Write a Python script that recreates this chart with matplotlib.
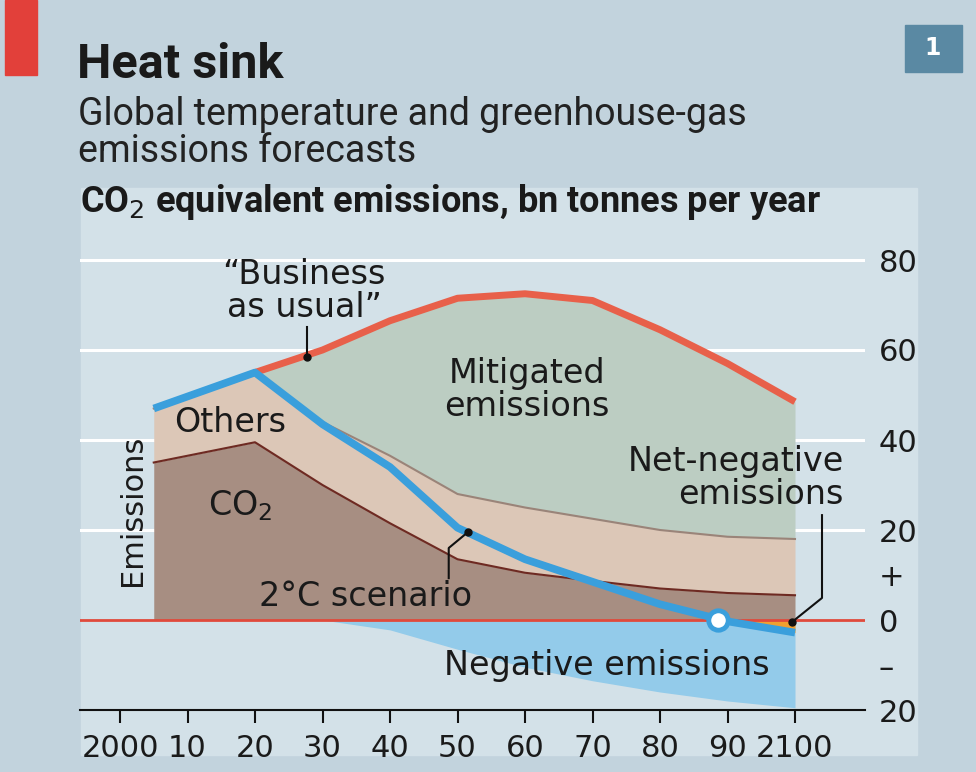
import matplotlib.pyplot as plt
from matplotlib.patches import Rectangle
import numpy as np

# Chart data (bn tonnes CO2 equivalent per year)
years = [2005, 2020, 2030, 2040, 2050, 2060, 2070, 2080, 2090, 2100]
co2 = [35, 39.5, 30, 21.5, 13.5, 10.5, 8.7, 7.0, 6.0, 5.5]
others_top = [47, 55, 44, 36.5, 28, 25, 22.5, 20, 18.5, 18]
two_deg = [47, 55, 43.5, 34, 20.5, 13.5, 8.5, 3.5, -0.3, -2.8]

bau_years = [2020, 2030, 2040, 2050, 2060, 2070, 2080, 2090, 2100]
bau = [55, 60, 66.5, 71.5, 72.5, 71, 64.5, 57, 48.5]

neg_years = [2030, 2040, 2050, 2060, 2070, 2080, 2090, 2100]
neg_bottom = [0, -2.2, -6.5, -10.5, -13.5, -16.0, -18.0, -19.5]

y_ticks = [80, 60, 40, 20, 10, 0, -10, -20]
y_labels = ['80', '60', '40', '20', '+', '0', '\u2013', '20']
x_ticks = [2000, 2010, 2020, 2030, 2040, 2050, 2060, 2070, 2080, 2090, 2100]
x_labels = ['2000', '10', '20', '30', '40', '50', '60', '70', '80', '90', '2100']

# Colours
BG = '#c2d3dd'
PANEL = '#d3e1e8'
MITIGATED = '#bccdc2'
OTHERS = '#dcc7b7'
CO2_FILL = '#a78e82'
CO2_LINE = '#6e2a22'
OTHERS_LINE = '#9a8479'
BAU_RED = '#e8604a'
BLUE = '#3a9fdc'
NEG_BLUE = '#93cbea'
ORANGE = '#f0a030'
ZERO_RED = '#e04a3c'
TEXT = '#1a1a1a'

W, H = 976, 772


def fx(px):
    return px / W


def fy(py):
    return 1 - py / H


fig = plt.figure(figsize=(W / 100, H / 100), dpi=100, facecolor=BG)

# light panel behind the chart
fig.patches.append(Rectangle((fx(81), fy(755)), fx(917) - fx(81), fy(188) - fy(755),
                             transform=fig.transFigure, color=PANEL, zorder=-5))
# red tag and number box
fig.patches.append(Rectangle((fx(5), fy(75)), fx(37) - fx(5), fy(0) - fy(75),
                             transform=fig.transFigure, color='#e2403a', zorder=-5))
fig.patches.append(Rectangle((fx(905), fy(72)), fx(962) - fx(905), fy(25) - fy(72),
                             transform=fig.transFigure, color='#5a89a3', zorder=-5))
fig.text(fx(933), fy(48), '1', color='white', fontsize=17, fontweight='bold',
         ha='center', va='center', family='DejaVu Sans')

fig.text(fx(77), fy(78), 'Heat sink', fontsize=35, fontweight='bold', color=TEXT,
         family='Roboto', va='baseline')
fig.text(fx(78), fy(125), 'Global temperature and greenhouse-gas', fontsize=27,
         color='#222222', family='Roboto', va='baseline')
fig.text(fx(78), fy(162), 'emissions forecasts', fontsize=27,
         color='#222222', family='Roboto', va='baseline')
fig.text(fx(80), fy(212), 'CO$_2$ equivalent emissions, bn tonnes per year', fontsize=26,
         fontweight='bold', color=TEXT, family='Roboto', va='baseline')

# axes mapped so that 2000 -> 120px, 2100 -> 795px, 0 -> 620px, -20 -> 710px
ax = fig.add_axes([fx(80), fy(710), fx(865) - fx(80), fy(224) - fy(710)])
ax.patch.set_alpha(0)
x0 = 2000 - 40 / 6.75
x1 = 2100 + 70 / 6.75
ax.set_xlim(x0, x1)
ax.set_ylim(-20, (620 - 224) / 4.5)

for g in [20, 40, 60, 80]:
    ax.axhline(g, color='white', lw=2.2, zorder=1)

# stacked areas
ax.fill_between(years, 0, co2, color=CO2_FILL, lw=0, zorder=2)
ax.fill_between(years, co2, others_top, color=OTHERS, lw=0, zorder=2)
others_interp = np.interp(bau_years, years, others_top)
ax.fill_between(bau_years, others_interp, bau, color=MITIGATED, lw=0, zorder=2)
ax.fill_between(neg_years, neg_bottom, 0, color=NEG_BLUE, lw=0, zorder=2)
ax.fill_between(years, two_deg, 0, where=[v < 0.5 for v in two_deg], interpolate=True,
                color=ORANGE, lw=0, zorder=3)

ax.plot(years, others_top, color=OTHERS_LINE, lw=1.5, zorder=4)
ax.plot(years, co2, color=CO2_LINE, lw=1.5, zorder=4)
ax.axhline(0, color=ZERO_RED, lw=2, zorder=4.5)
ax.plot(bau_years, bau, color=BAU_RED, lw=5, zorder=5, solid_capstyle='butt')
ax.plot(years, two_deg, color=BLUE, lw=5.5, zorder=6, solid_capstyle='butt',
        solid_joinstyle='round')
ax.plot([2088.6], [0], marker='o', ms=14, mfc='white', mec=BLUE, mew=3.5, zorder=7)

# annotations
lbl = dict(fontsize=24, color=TEXT, family='DejaVu Sans', zorder=8)
ax.plot([2027.7, 2027.7], [58.4, 65.0], color='#111111', lw=1.5, zorder=8)
ax.plot([2027.7], [58.4], 'o', color='#111111', ms=5, zorder=8)
ax.text(2027.3, 65.8, '\u201cBusiness\nas usual\u201d', ha='center', va='bottom',
        linespacing=1.0, **lbl)

ax.plot([2051.6, 2048.7, 2048.7], [19.6, 16.0, 9.3], color='#111111', lw=1.5, zorder=8)
ax.plot([2051.6], [19.6], 'o', color='#111111', ms=5, zorder=8)
ax.text(2036.4, 5.3, '2\u00b0C scenario', ha='center', va='center', **lbl)

ax.plot([2099.6, 2104.0, 2104.0], [-0.4, 4.9, 23.3], color='#111111', lw=1.5, zorder=8,
        clip_on=False)
ax.plot([2099.6], [-0.4], 'o', color='#111111', ms=5, zorder=8)
ax.text(2107.2, 24.3, 'Net-negative\nemissions', ha='right', va='bottom',
        linespacing=1.0, **lbl)

ax.text(2060.3, 51.1, 'Mitigated\nemissions', ha='center', va='center',
        linespacing=1.0, **lbl)
ax.text(2016.3, 44.0, 'Others', ha='center', va='center', **lbl)
ax.text(2017.8, 25.5, 'CO$_2$', ha='center', va='center', **lbl)
ax.text(2001.8, 24.4, 'Emissions', ha='center', va='center', rotation=90,
        fontsize=22, color=TEXT, family='DejaVu Sans', zorder=8)
ax.text(2072.1, -10.0, 'Negative emissions', ha='center', va='center', **lbl)

# axes styling
for side in ['top', 'left', 'right']:
    ax.spines[side].set_visible(False)
ax.spines['bottom'].set_color('#111111')
ax.spines['bottom'].set_linewidth(1.5)
ax.spines['bottom'].set_zorder(9)

ax.set_xticks(x_ticks)
ax.set_xticklabels(x_labels, fontsize=22, color=TEXT, family='DejaVu Sans')
ax.tick_params(axis='x', direction='out', length=9, width=1.5, color='#111111', pad=8)

ax.yaxis.tick_right()
ax.set_yticks(y_ticks)
ax.set_yticklabels(y_labels, fontsize=22, color=TEXT, family='DejaVu Sans')
ax.tick_params(axis='y', length=0, pad=10)

fig.savefig('out.png', dpi=100, facecolor=BG)
